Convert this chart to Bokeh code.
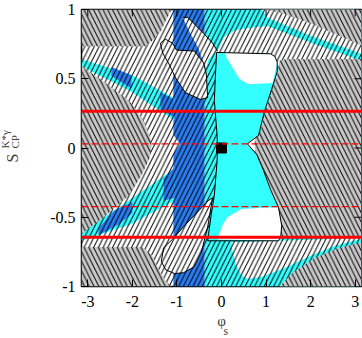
import numpy as np
from bokeh.plotting import figure
from bokeh.models import Range1d, Label, FixedTicker, Span
from bokeh.embed import file_html
from bokeh.resources import INLINE

PI = np.pi

# ---------------- data (phi_s, S_CP) ----------------
x_ticks = [-3, -2, -1, 0, 1, 2, 3]
y_ticks = [-1, -0.5, 0, 0.5, 1]

S_meas_solid = [0.265, -0.645]
S_meas_dash = [0.03, -0.424]
point_phi = [0.0]
point_S = [0.0]

cyan_phi = [-0.38, PI, PI, -0.38]
cyan_S = [-1.0, -1.0, 1.0, 1.0]
blue_phi = [-1.08, -0.38, -0.38, -1.08]
blue_S = [-1.0, -1.0, 1.0, 1.0]

band_u_phi = [-PI, -2.04, -1.06, -1.06, -2.04, -PI]
band_u_S = [0.64, 0.53, 0.36, 0.20, 0.41, 0.59]
band_u_b1_phi = [-2.47, -2.02, -2.02, -2.47]
band_u_b1_S = [0.585, 0.525, 0.43, 0.52]
band_u_b2_phi = [-1.37, -1.06, -1.06, -1.37]
band_u_b2_S = [0.40, 0.35, 0.22, 0.28]
band_l_phi = [-PI, -2.04, -1.06, -1.06, -2.04, -PI]
band_l_S = [-0.61, -0.37, -0.15, -0.38, -0.55, -0.67]
band_l_b1_phi = [-2.76, -2.4, -2.0, -2.0, -2.3, -2.76]
band_l_b1_S = [-0.58, -0.45, -0.39, -0.47, -0.55, -0.63]
band_l_b2_phi = [-1.3, -1.06, -1.06, -1.3]
band_l_b2_S = [-0.22, -0.14, -0.36, -0.38]
notch_l_phi = [-1.09, -0.93, -1.09]
notch_l_S = [0.10, 0.03, -0.05]

w_top_phi = [-0.09, 0.05, 0.3, 0.7, 1.03, 2.0, PI, PI, -0.09]
w_top_S = [0.70, 0.80, 0.85, 0.87, 0.88, 0.76, 0.63, 0.5, 0.5]
w_gap_phi = [0.9, 1.03, 2.0, PI, PI]
w_gap_S = [1.0, 0.94, 0.81, 0.68, 1.0]
w_bot_phi = [0.22, 1.3, PI, PI, 2.6, 2.09, 1.35, 0.9, 0.6, 0.45, 0.32, 0.25]
w_bot_S = [-0.68, -0.67, -0.65, -0.655, -0.70, -0.765, -0.875, -0.93, -0.945, -0.92, -0.84, -0.75]

# white blobs in the blue band
w_ul_phi = [-1.37, -1.26, -1.10, -1.01, -0.61, -0.40, -0.34, -0.31, -0.47, -0.81, -1.03, -1.19, -1.32]
w_ul_S = [0.757, 0.786, 0.757, 0.707, 0.70, 0.614, 0.529, 0.364, 0.35, 0.40, 0.507, 0.614, 0.686]
w_cr_phi = [-0.87, -0.76, -0.58, -0.36, -0.20, -0.09, -0.16, -0.29, -0.34, -0.40, -0.52, -0.70]
w_cr_S = [0.943, 0.943, 0.886, 0.814, 0.757, 0.70, 0.686, 0.643, 0.579, 0.614, 0.721, 0.829]
w_ll_phi = [-0.20, -0.31, -0.45, -0.61, -0.85, -1.05, -1.25, -1.35, -1.30, -1.10, -0.80, -0.50, -0.30]
w_ll_S = [-0.36, -0.57, -0.75, -0.857, -0.90, -0.907, -0.88, -0.82, -0.72, -0.66, -0.55, -0.45, -0.38]

# central allowed region (hourglass) outline
hg_phi = [-0.11, 1.10, 1.20, 1.25, 1.25, 1.12, 0.96, 0.83, 0.58, 0.80, 0.94,
          1.10, 1.28, 1.35, 1.33, 1.28, -0.31, -0.23, -0.16, -0.10, -0.09,
          -0.10, -0.16, -0.14]
hg_S = [0.69, 0.68, 0.66, 0.62, 0.55, 0.42, 0.26, 0.09, 0.03, -0.05, -0.16,
        -0.30, -0.43, -0.56, -0.64, -0.67, -0.67, -0.48, -0.34, -0.10, 0.0,
        0.10, 0.34, 0.50]
hw_top_phi = [0.07, 1.10, 1.20, 1.25, 1.15, 0.6, 0.4, 0.25, 0.12]
hw_top_S = [0.69, 0.68, 0.66, 0.62, 0.47, 0.46, 0.50, 0.58, 0.65]
hw_bot_phi = [-0.09, 0.02, 0.13, 0.45, 1.03, 1.28, 1.35, 1.33, 1.28]
hw_bot_S = [-0.66, -0.56, -0.50, -0.44, -0.43, -0.43, -0.56, -0.64, -0.67]
notch_phi = [0.56, 0.76, 0.76]
notch_S = [0.025, 0.08, -0.03]

# gray excluded regions
g_tl_phi = [-PI, -PI, -1.70, -1.50, -1.35, -1.22, -1.12]
g_tl_S = [1.0, 0.735, 0.735, 0.79, 0.85, 0.94, 1.0]
g_l_phi = [-PI, -2.6, -2.07, -1.75, -1.6, -1.57, -1.62, -1.8, -2.07, -2.6, -PI]
g_l_S = [0.59, 0.47, 0.34, 0.20, 0.08, 0.0, -0.08, -0.2, -0.34, -0.49, -0.62]
g_bl_phi = [-PI, -PI, -1.78, -1.55, -1.40, -1.25, -1.13]
g_bl_S = [-1.0, -0.714, -0.714, -0.78, -0.885, -0.96, -1.0]
g_tr_phi = [0.95, PI, PI, 2.5, 2.0, 1.3]
g_tr_S = [1.0, 1.0, 0.74, 0.83, 0.90, 0.98]
g_r_phi = [PI, 1.45, 1.30, 1.27, 1.14, 0.98, 0.85, 0.76, 0.74, 0.76, 0.85,
           0.94, 1.10, 1.28, 1.35, 1.36, PI]
g_r_S = [0.64, 0.64, 0.63, 0.55, 0.42, 0.26, 0.09, 0.08, 0.03, -0.03, -0.10,
         -0.16, -0.30, -0.43, -0.56, -0.65, -0.65]
g_br_phi = [PI, 2.6, 2.09, 1.6, 1.4, 1.3, PI]
g_br_S = [-0.68, -0.725, -0.795, -0.90, -0.97, -1.0, -1.0]

# ---------------- figure ----------------
GRAY = "#c8c8c8"
CYAN = "#33ffff"
BLUE = "#2a7cf2"
FONT = "Liberation Serif"

p = figure(width=362, height=338, x_range=Range1d(-PI, PI), y_range=Range1d(-1, 1),
           output_backend="svg", toolbar_location=None,
           min_border_left=81, min_border_right=1, min_border_top=9, min_border_bottom=52)
p.grid.visible = False
p.outline_line_color = "black"
p.outline_line_width = 1.5

def patch(xs, ys, color, hatch=None):
    kw = dict(fill_color=color, line_color=None)
    if hatch:
        kw.update(hatch_pattern=hatch, hatch_color="black", hatch_scale=9.5, hatch_weight=1.0)
    p.patch(xs, ys, **kw)

patch(cyan_phi, cyan_S, CYAN)
patch(blue_phi, blue_S, BLUE)
patch(band_u_phi, band_u_S, CYAN)
patch(band_u_b1_phi, band_u_b1_S, BLUE)
patch(band_u_b2_phi, band_u_b2_S, BLUE)
patch(band_l_phi, band_l_S, CYAN)
patch(band_l_b1_phi, band_l_b1_S, BLUE)
patch(band_l_b2_phi, band_l_b2_S, BLUE)
patch(notch_l_phi, notch_l_S, "white")
patch(w_top_phi, w_top_S, "white")
patch(w_gap_phi, w_gap_S, "white")
patch(w_bot_phi, w_bot_S, "white")
patch(w_ul_phi, w_ul_S, "white")
patch(w_cr_phi, w_cr_S, "white")
patch(w_ll_phi, w_ll_S, "white")
p.quad(left=[-PI], right=[PI], bottom=[-1], top=[1], fill_alpha=0, line_color=None,
       hatch_pattern="/", hatch_color="black", hatch_scale=9.5, hatch_weight=1.0)
patch(hg_phi, hg_S, CYAN)
patch(hw_top_phi, hw_top_S, "white")
patch(hw_bot_phi, hw_bot_S, "white")
patch(notch_phi, notch_S, "white")
for xs, ys in [(g_tl_phi, g_tl_S), (g_l_phi, g_l_S), (g_bl_phi, g_bl_S),
               (g_tr_phi, g_tr_S), (g_r_phi, g_r_S), (g_br_phi, g_br_S)]:
    patch(xs, ys, GRAY, hatch="\\")

for xs, ys in [(hg_phi, hg_S), (w_ul_phi, w_ul_S), (w_ll_phi, w_ll_S)]:
    p.patch(xs, ys, fill_alpha=0, line_color="black", line_width=1)
p.line(w_cr_phi[:6], w_cr_S[:6], line_color="black", line_width=1)

for s in S_meas_solid:
    p.add_layout(Span(location=s, dimension="width", line_color="red", line_width=3))
for s in S_meas_dash:
    p.add_layout(Span(location=s, dimension="width", line_color="red", line_width=1.3,
                      line_dash="7 3"))
p.scatter(point_phi, point_S, marker="square", size=10, fill_color="black", line_color="black")

# mirror ticks on the top and right edges
tx = np.array(x_ticks, dtype=float)
ty = np.array(y_ticks, dtype=float)
p.segment(x0=tx, y0=np.full(len(tx), 1.0), x1=tx, y1=np.full(len(tx), 1.0 - 0.05),
          line_color="black", line_width=1)
p.segment(x0=np.full(len(ty), PI), y0=ty, x1=np.full(len(ty), PI - 0.157), y1=ty,
          line_color="black", line_width=1)

for ax in (p.xaxis[0], p.yaxis[0]):
    ax.major_tick_in = 7
    ax.major_tick_out = 0
    ax.minor_tick_line_color = None
    ax.axis_line_color = None
    ax.major_label_text_font = FONT
    ax.major_label_text_font_size = "16px"
    ax.major_label_text_color = "black"
    ax.major_tick_line_color = "black"
p.xaxis[0].ticker = FixedTicker(ticks=x_ticks)
p.yaxis[0].ticker = FixedTicker(ticks=y_ticks)
p.xaxis[0].major_label_standoff = 9
p.yaxis[0].major_label_standoff = 6
p.yaxis[0].major_label_overrides = {1: "1", -1: "-1", 0: "0", 0.5: "0.5", -0.5: "-0.5"}
p.xaxis[0].major_label_overrides = {t: str(t) for t in x_ticks}

# x title: phi as the axis label, subscript s as a label
p.xaxis[0].axis_label = "\u03c6"
p.xaxis[0].axis_label_text_font = FONT
p.xaxis[0].axis_label_text_font_style = "normal"
p.xaxis[0].axis_label_text_font_size = "15px"
p.xaxis[0].axis_label_standoff = 3

# y title pieces (left side panels, packed outward from the axis)
p.add_layout(Label(x=-18, y=124, x_units="screen", y_units="screen", text="S",
                   angle=PI / 2, text_font=FONT, text_font_size="16px",
                   text_baseline="alphabetic"), "left")
p.add_layout(Label(x=-9, y=138, x_units="screen", y_units="screen", text="K*\u03b3\nCP",
                   angle=PI / 2, text_font=FONT, text_font_size="11px",
                   text_baseline="top", text_line_height=0.9), "left")
p.add_layout(Label(x=221, y=-44, x_units="screen", y_units="screen", text="s",
                   text_font=FONT, text_font_size="12px", text_baseline="alphabetic"), "left")

open("out.html", "w").write(file_html(p, INLINE))
